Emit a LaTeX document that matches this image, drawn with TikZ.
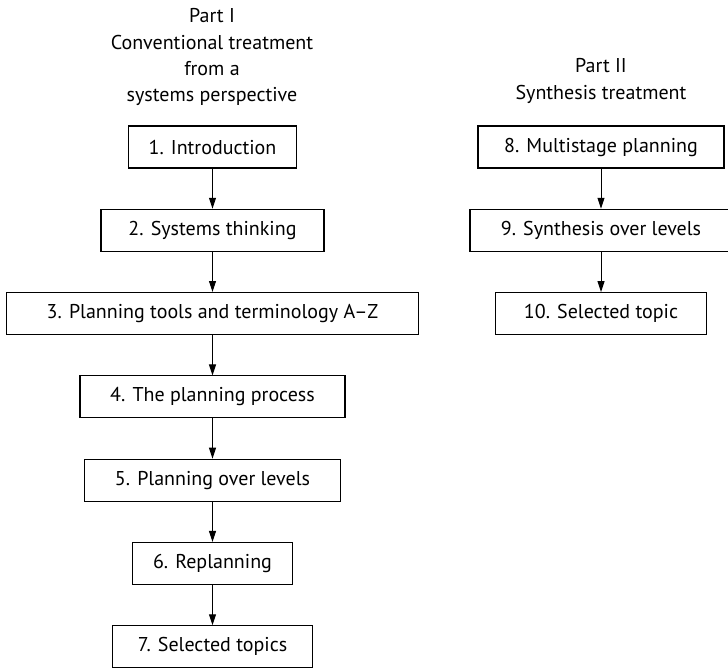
\documentclass[tikz,border=0pt]{standalone}
\usepackage{fontspec}
\setmainfont{PT Sans}
\usetikzlibrary{arrows.meta}
\begin{document}
\begin{tikzpicture}[x=1pt,y=-1pt,
  stage/.style={draw, line width=1.1pt, minimum height=42pt, inner sep=0pt,
    font=\fontsize{20}{24}\selectfont},
  flow/.style={-{Triangle[length=11pt,width=7pt]}, line width=1pt},
  heading/.style={anchor=base, inner sep=0pt, font=\fontsize{20}{24}\selectfont}]
\useasboundingbox (0,0) rectangle (728,667);

% Part I headings
\node[heading] (p1a) at (212,22)  {Part I};
\node[heading] (p1b) at (212,49)  {Conventional treatment};
\node[heading] (p1c) at (212,75)  {from a};
\node[heading] (p1d) at (212,101) {systems perspective};

% Part II headings
\node[heading] (p2a) at (601,72) {Part II};
\node[heading] (p2b) at (601,99) {Synthesis treatment};

% Part I chapters
\node[stage, minimum width=168pt] (c1) at (212.5,147)   {1. Introduction};
\node[stage, minimum width=223pt] (c2) at (212.5,230.3) {2. Systems thinking};
\node[stage, minimum width=412pt] (c3) at (212.5,313.6) {3. Planning tools and terminology A--Z};
\node[stage, minimum width=265pt] (c4) at (212.5,396.9) {4. The planning process};
\node[stage, minimum width=256pt] (c5) at (212.5,480.2) {5. Planning over levels};
\node[stage, minimum width=160pt] (c6) at (212.5,563.5) {6. Replanning};
\node[stage, minimum width=200pt] (c7) at (212.5,646.8) {7. Selected topics};

% Part II chapters
\node[stage, minimum width=246pt] (c8)  at (601,147)   {8. Multistage planning};
\node[stage, minimum width=262pt] (c9)  at (601,230.3) {9. Synthesis over levels};
\node[stage, minimum width=211pt] (c10) at (601,313.6) {10. Selected topic};

% reading order
\draw[flow] (c1) -- (c2);
\draw[flow] (c2) -- (c3);
\draw[flow] (c3) -- (c4);
\draw[flow] (c4) -- (c5);
\draw[flow] (c5) -- (c6);
\draw[flow] (c6) -- (c7);
\draw[flow] (c8) -- (c9);
\draw[flow] (c9) -- (c10);
\end{tikzpicture}
\end{document}
